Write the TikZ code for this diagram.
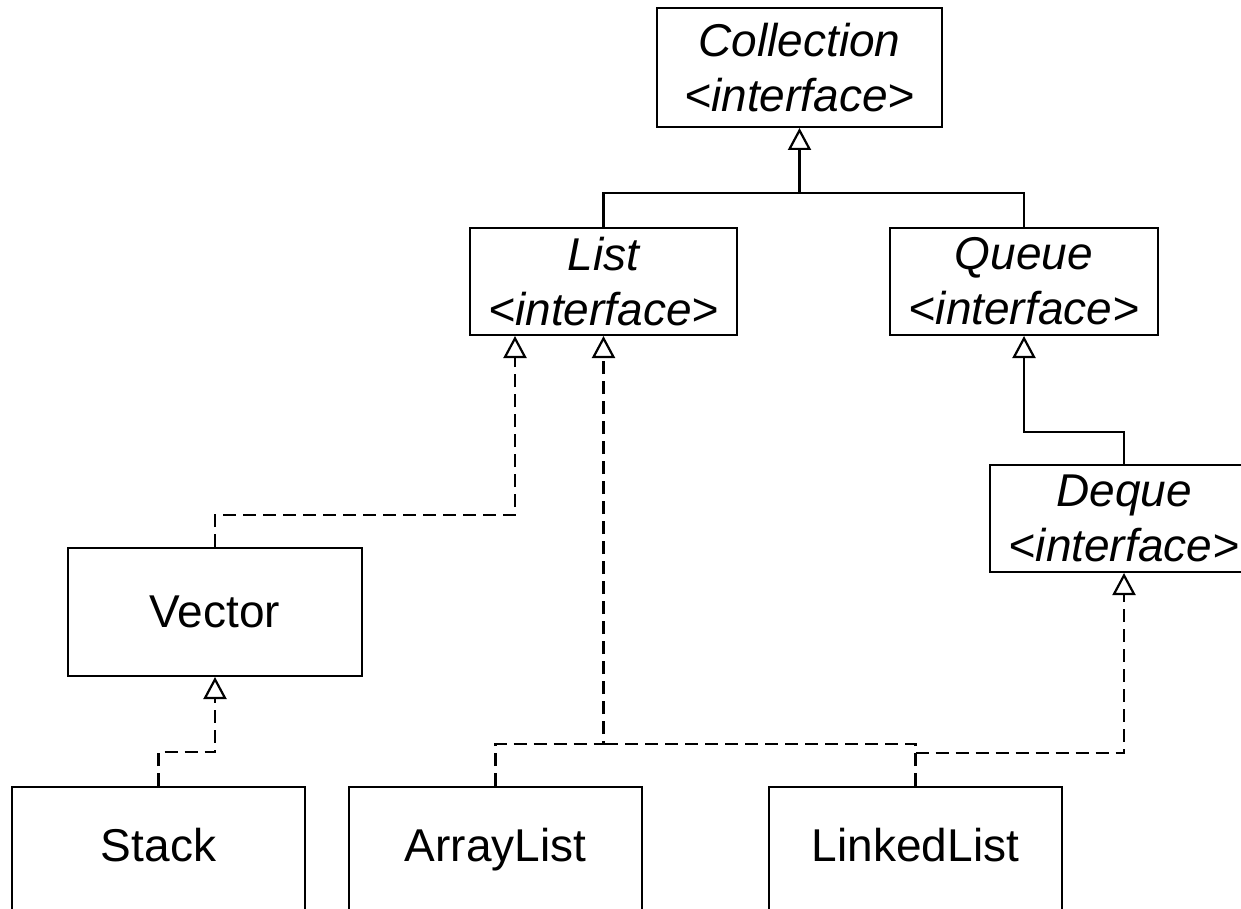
\documentclass[tikz,border=0pt]{standalone}
\usepackage{fontspec}
\setmainfont{Liberation Sans}
\usetikzlibrary{arrows.meta}
\begin{document}
\begin{tikzpicture}[x=0.5pt,y=-0.5pt,
  box/.style={draw=black, line width=1pt, fill=white, inner sep=0pt, align=center,
    font=\fontsize{23}{27.5}\selectfont},
  iface/.style={box, font=\fontsize{23}{27.5}\selectfont\itshape},
  conn/.style={line width=1.1pt, black},
  dep/.style={conn, dash pattern=on 6.5pt off 3.5pt},
  gen/.style={-{Triangle[open, length=11pt, width=11.5pt, fill=white]}}
]
\useasboundingbox (0,0) rectangle (1241,909);
\clip (0,0) rectangle (1241,909);

\node[iface, minimum width=142.5pt, minimum height=59.5pt] (Collection) at (799.5,67.5) {Collection\\<interface>};
\node[iface, minimum width=133.5pt, minimum height=53.5pt] (List) at (603.5,281.5) {List\\<interface>};
\node[iface, minimum width=134pt, minimum height=53.5pt] (Queue) at (1024,281.5) {Queue\\<interface>};
\node[iface, minimum width=134pt, minimum height=53.5pt] (Deque) at (1124,518.5) {Deque\\<interface>};
\node[box, minimum width=147pt, minimum height=64pt] (Vector) at (215,612) {Vector};
\node[box, minimum width=146.5pt, minimum height=80pt] (Stack) at (158.5,867) {\raisebox{22pt}{Stack}};
\node[box, minimum width=146.5pt, minimum height=80pt] (ArrayList) at (495.5,867) {\raisebox{22pt}{ArrayList}};
\node[box, minimum width=146.5pt, minimum height=80pt] (LinkedList) at (915.5,867) {\raisebox{22pt}{LinkedList}};

% Collection <- List, Queue
\coordinate (j1) at (Collection.south |- 0,193);
\draw[conn] (List.north) |- (Queue.north |- j1) -- (Queue.north);
\draw[conn, gen] (j1) -- (Collection.south);

% Queue <- Deque
\draw[conn, gen] (Deque.north) -- (Deque.north |- 0,432) -| (Queue.south);

% List <- Vector
\draw[dep, gen] (Vector.north) -- (Vector.north |- 0,515) -| (List.south -| 515,0);

% List <- ArrayList, LinkedList
\coordinate (j2) at (List.south |- 0,744);
\draw[dep, gen] (ArrayList.north) -- (ArrayList.north |- j2) -| (List.south);
\draw[dep] (LinkedList.north) -- (LinkedList.north |- j2) -- (j2);

% Deque <- LinkedList
\draw[dep, gen] (LinkedList.north |- 0,753) -| (Deque.south);

% Vector <- Stack
\draw[dep, gen] (Stack.north) -- (Stack.north |- 0,752) -| (Vector.south);
\end{tikzpicture}
\end{document}
